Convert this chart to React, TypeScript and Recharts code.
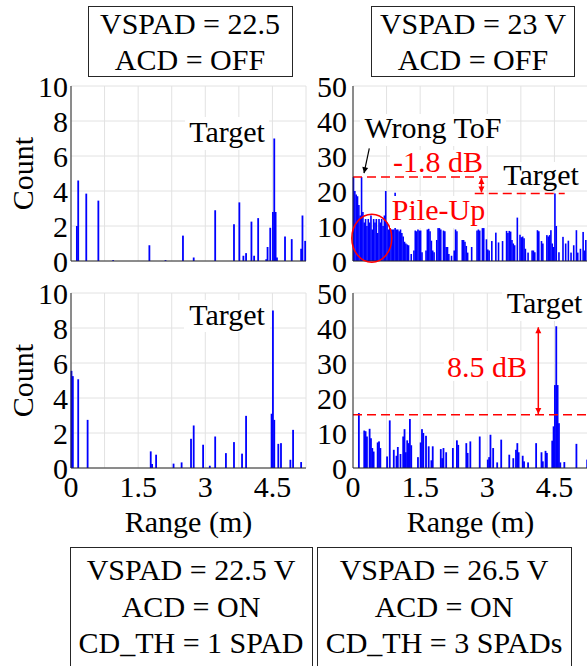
import React from 'react'
import { BarChart, Bar, XAxis, YAxis, CartesianGrid, ReferenceLine, ReferenceDot } from 'recharts'

const BIN = 0.03
const NBINS = 175
const X_MAX = 5.25
const X_TICKS = [0, 0.75, 1.5, 2.25, 3, 3.75, 4.5, 5.25]
const X_LABELS = [0, 1.5, 3, 4.5]
const Y_TICKS_10 = [0, 2, 4, 6, 8, 10]
const Y_TICKS_50 = [0, 10, 20, 30, 40, 50]

// VSPAD = 22.5, ACD = OFF
const tlRange = [0.127, 0.15, 0.335, 0.6, 0.945, 1.76, 2.1, 2.515, 2.73, 3.21, 3.63, 3.77, 3.85, 3.9, 4.03, 4.1, 4.18, 4.37, 4.39, 4.44, 4.5, 4.53, 4.56, 4.6, 4.78, 4.94, 5.14, 5.17, 5.22]
const tlCount = [2.0, 4.6, 3.85, 3.45, 0.05, 0.9, 0.05, 1.45, 0.2, 2.9, 2.1, 3.35, 0.3, 0.45, 2.25, 0.3, 2.45, 0.1, 0.8, 1.9, 2.8, 7.0, 2.8, 0.2, 1.4, 1.25, 0.7, 2.6, 1.15]

// VSPAD = 23 V, ACD = OFF (one value per 3 cm bin)
const trCount = [
  24, 20, 19, 18.5, 16, 13, 24, 14, 11, 12,
  10, 12, 11, 13, 9, 12, 11, 12, 8, 12,
  11, 12, 10, 13, 20, 11, 9, 9.4, 9, 9,
  9, 19.5, 9, 9, 8.5, 9, 8, 7, 5.5, 5,
  4.7, 4.5, 0, 2, 0, 3, 8.7, 8.5, 9, 8.7,
  8.7, 2.5, 0, 0, 3, 9, 9.2, 8.5, 5.8, 3,
  2.5, 0, 6, 9.4, 9.4, 9, 0, 8.7, 8.5, 4,
  4, 2, 0, 1.5, 0, 3, 9, 8.5, 0, 0,
  0, 6, 6, 5.5, 4.3, 2.4, 0, 0, 4, 0,
  0, 0, 8.7, 9, 8.7, 0, 9.4, 9.4, 0, 6.2,
  3.3, 3, 0, 5.7, 0, 0, 8.1, 0, 5.3, 0,
  0, 5.7, 0, 0, 8.6, 8, 8.6, 8.4, 6, 5,
  4.5, 0, 12.4, 0, 7.5, 6.8, 7, 6.5, 3.5, 0,
  2.4, 0, 0, 3, 3, 2.5, 0, 8.8, 8.5, 0,
  5.7, 5, 0, 0, 7.4, 7, 7.4, 8.8, 5, 4,
  19.3, 10, 0, 2.5, 0, 0, 6.9, 0, 5, 0,
  5.8, 0, 2.4, 0, 4.5, 0, 8.8, 2.4, 0, 3.5,
  0, 8.3, 3, 6, 0,
]

// VSPAD = 22.5 V, ACD = ON, CD_TH = 1 SPAD
const blRange = [0.02, 0.05, 0.17, 0.385, 1.78, 1.82, 1.9, 2.305, 2.47, 2.68, 2.73, 2.94, 3.09, 3.23, 3.46, 3.63, 3.82, 3.92, 4.49, 4.52, 4.55, 4.635, 4.69, 4.91, 4.96, 5.15]
const blCount = [5.55, 5.25, 5.07, 2.75, 0.95, 0.23, 0.76, 0.25, 0.32, 1.67, 2.43, 1.33, 0.13, 1.8, 0.85, 1.48, 0.82, 2.98, 3.1, 9.0, 2.75, 1.38, 1.42, 0.47, 2.18, 0.34]

// VSPAD = 26.5 V, ACD = ON, CD_TH = 3 SPADs
const brRange = [0.12, 0.245, 0.275, 0.305, 0.365, 0.395, 0.44, 0.47, 0.54, 0.58, 0.62, 0.75, 0.825, 0.92, 0.96, 1.01, 1.05, 1.11, 1.14, 1.17, 1.21, 1.245, 1.27, 1.31, 1.46, 1.51, 1.555, 1.585, 1.63, 1.7, 1.74, 1.79, 1.96, 2.0, 2.03, 2.075, 2.225, 2.335, 2.365, 2.54, 2.575, 2.63, 2.84, 3.0, 3.03, 3.08, 3.12, 3.22, 3.32, 3.48, 3.59, 3.64, 3.67, 3.71, 3.79, 3.82, 3.9, 4.1, 4.21, 4.25, 4.29, 4.345, 4.46, 4.49, 4.525, 4.55, 4.575, 4.605, 4.63, 4.71, 4.99, 5.22]
const brCount = [15.7, 10.7, 10.5, 9, 11.2, 8.5, 5.7, 4.7, 7.3, 7.6, 5.7, 3.3, 13.6, 5.2, 3.5, 6, 4, 9, 11.1, 4.5, 7.9, 7.1, 14, 6.5, 3.1, 7.3, 11.1, 10, 9.2, 6.2, 2.2, 6.2, 5.4, 2.8, 5.7, 4.5, 5.7, 7.9, 6.6, 7.1, 4.3, 7.6, 9, 2.4, 3.1, 9.5, 5.7, 1.6, 8.1, 3.8, 2.8, 5.2, 7.1, 4.5, 3.5, 1.9, 1.6, 7.1, 4.5, 1.9, 4.9, 4.3, 7.8, 11.9, 23.7, 40.5, 23.7, 12.8, 1.6, 1.7, 6.9, 2.4]

const FONT = "'Times New Roman', 'Liberation Serif', Tinos, 'DejaVu Serif', serif"
const BLUE = '#0000ff'
const RED = '#ff0000'
const AXIS = '#262626'

function binTable(counts: number[]) {
  return counts.map((y, i) => ({ x: (i + 0.5) * BIN, y }))
}

function sparseTable(ranges: number[], counts: number[]) {
  const c = new Array(NBINS).fill(0)
  ranges.forEach((r, i) => {
    const b = Math.min(NBINS - 1, Math.floor(r / BIN + 1e-6))
    c[b] = Math.max(c[b], counts[i])
  })
  return binTable(c)
}

function arrowHead(x: number, y: number, a: number, color: string, key: string) {
  const L = 6, W = 3
  const bx = x - L * Math.cos(a), by = y - L * Math.sin(a)
  const px = -Math.sin(a) * W, py = Math.cos(a) * W
  return <polygon key={key} points={`${x},${y} ${bx + px},${by + py} ${bx - px},${by - py}`} fill={color} />
}

const doubleArrow = (color: string) => (p: any) => {
  const { x1, y1, x2, y2 } = p
  const a = Math.atan2(y2 - y1, x2 - x1)
  return (
    <g>
      <line x1={x1} y1={y1} x2={x2} y2={y2} stroke={color} strokeWidth={1.5} />
      {arrowHead(x2, y2, a, color, 'e')}
      {arrowHead(x1, y1, a + Math.PI, color, 's')}
    </g>
  )
}

const singleArrow = (color: string) => (p: any) => {
  const { x1, y1, x2, y2 } = p
  const a = Math.atan2(y2 - y1, x2 - x1)
  return (
    <g>
      <line x1={x1} y1={y1} x2={x2} y2={y2} stroke={color} strokeWidth={1.2} />
      {arrowHead(x2, y2, a, color, 'e')}
    </g>
  )
}

// bar drawn a little wider than its 3 cm bin, as the histogram does
const histBar = (w: number) => (p: any) => {
  if (!p.height) return <g />
  const bw = Math.max(w, p.width + 0.3)
  return <rect x={p.x + p.width / 2 - bw / 2} y={p.y} width={bw} height={p.height} fill={BLUE} />
}

const PLOT_W = 235
const PLOT_H = 175
const SVG_W = 600
const SVG_H = 666

interface PanelProps {
  left: number
  top: number
  yMax: number
  yTicks: number[]
  data: { x: number; y: number }[]
  showX: boolean
  tickGap: number
  barW: number
  children?: React.ReactNode
}

function Panel({ left, top, yMax, yTicks, data, showX, tickGap, barW, children }: PanelProps) {
  const tickStyle = { fontSize: 30, fontFamily: FONT, fill: '#000' }
  return (
    <div style={{ position: 'absolute', left: 0, top: 0 }}>
      <BarChart
        width={SVG_W}
        height={SVG_H}
        data={data}
        barCategoryGap={0}
        barGap={0}
        margin={{ top, left: left - 60, right: SVG_W - left - PLOT_W, bottom: SVG_H - top - PLOT_H - 30 }}
      >
        <CartesianGrid stroke="#e2e2e2" strokeWidth={1} />
        <XAxis
          dataKey="x"
          type="number"
          domain={[0, X_MAX]}
          ticks={X_TICKS}
          height={30}
          tickSize={0}
          tickMargin={8}
          tick={tickStyle}
          tickFormatter={(v: number) => (showX && X_LABELS.includes(v) ? String(v) : '')}
          axisLine={{ stroke: AXIS }}
          tickLine={false}
          interval={0}
        />
        <YAxis
          type="number"
          domain={[0, yMax]}
          ticks={yTicks}
          width={60}
          tickSize={0}
          tickMargin={tickGap}
          tick={tickStyle}
          axisLine={{ stroke: AXIS }}
          tickLine={false}
          interval={0}
        />
        <XAxis xAxisId="top" orientation="top" mirror type="number" domain={[0, X_MAX]} ticks={X_TICKS} height={0} tick={false} tickSize={3} axisLine={{ stroke: AXIS }} tickLine={{ stroke: AXIS }} />
        <XAxis xAxisId="bin" orientation="bottom" mirror type="number" domain={[0, X_MAX]} ticks={X_TICKS} height={0} tick={false} tickSize={3} axisLine={false} tickLine={{ stroke: AXIS }} />
        <YAxis yAxisId="right" orientation="right" mirror type="number" domain={[0, yMax]} ticks={yTicks} width={0} tick={false} tickSize={3} axisLine={{ stroke: AXIS }} tickLine={{ stroke: AXIS }} />
        <YAxis yAxisId="lin" orientation="left" mirror type="number" domain={[0, yMax]} ticks={yTicks} width={0} tick={false} tickSize={3} axisLine={false} tickLine={{ stroke: AXIS }} />
        <Bar dataKey="y" fill={BLUE} isAnimationActive={false} shape={histBar(barW)} />
        {children}
      </BarChart>
    </div>
  )
}

function Label({ x, y, text, color = '#000', bg }: { x: number; y: number; text: string; color?: string; bg?: [number, number, number, number] }) {
  return (
    <g>
      {bg && <rect x={bg[0]} y={bg[1]} width={bg[2]} height={bg[3]} fill="#fff" />}
      <text x={x} y={y} textAnchor="middle" fill={color} fontSize={30} style={{ fontFamily: FONT }}>
        {text}
      </text>
    </g>
  )
}

export default function App() {
  return (
    <div style={{ position: 'absolute', left: 0, top: 0, width: 587, height: 666, overflow: 'hidden', background: '#fff', fontFamily: FONT }}>
      <Panel left={71} top={86} yMax={10} yTicks={Y_TICKS_10} data={sparseTable(tlRange, tlCount)} showX={false} tickGap={3} barW={1.8} />
      <Panel left={353} top={86} yMax={50} yTicks={Y_TICKS_50} data={binTable(trCount)} showX={false} tickGap={6} barW={1.6}>
        <ReferenceLine segment={[{ x: 0, y: 24 }, { x: 3.06, y: 24 }]} stroke={RED} strokeWidth={1.5} strokeDasharray="9 5" />
        <ReferenceLine segment={[{ x: 2.72, y: 19.3 }, { x: 4.73, y: 19.3 }]} stroke={RED} strokeWidth={1.5} strokeDasharray="9 5" />
        <ReferenceLine segment={[{ x: 2.87, y: 23.7 }, { x: 2.87, y: 19.6 }]} shape={doubleArrow(RED)} />
        <ReferenceLine segment={[{ x: 0.364, y: 32.2 }, { x: 0.246, y: 25.1 }]} shape={singleArrow('#000')} />
        <ReferenceDot x={0.42} y={6.5} r={1} shape={(p: any) => <ellipse cx={p.cx} cy={p.cy} rx={20} ry={24} fill="none" stroke={RED} strokeWidth={1.5} />} />
      </Panel>
      <Panel left={71} top={293} yMax={10} yTicks={Y_TICKS_10} data={sparseTable(blRange, blCount)} showX tickGap={3} barW={1.8} />
      <Panel left={353} top={293} yMax={50} yTicks={Y_TICKS_50} data={sparseTable(brRange, brCount)} showX tickGap={6} barW={1.8}>
        <ReferenceLine y={15.2} stroke={RED} strokeWidth={1.5} strokeDasharray="9 5" />
        <ReferenceLine segment={[{ x: 4.14, y: 15.4 }, { x: 4.14, y: 40.2 }]} shape={doubleArrow(RED)} />
      </Panel>

      <svg width={587} height={666} style={{ position: 'absolute', left: 0, top: 0 }}>
        <rect x={88.5} y={6.5} width={204} height={70} fill="#fff" stroke={AXIS} />
        <Label x={190} y={34} text="VSPAD = 22.5" />
        <Label x={190} y={70} text="ACD = OFF" />
        <rect x={371.5} y={6.5} width={203} height={70} fill="#fff" stroke={AXIS} />
        <Label x={473} y={34} text="VSPAD = 23 V" />
        <Label x={473} y={70} text="ACD = OFF" />

        <text transform="translate(33,173.5) rotate(-90)" textAnchor="middle" fontSize={30} style={{ fontFamily: FONT }}>Count</text>
        <text transform="translate(33,380.5) rotate(-90)" textAnchor="middle" fontSize={30} style={{ fontFamily: FONT }}>Count</text>
        <Label x={188.5} y={532} text="Range (m)" />
        <Label x={470.5} y={532} text="Range (m)" />

        <Label x={227} y={142} text="Target" bg={[185, 117, 84, 33]} />
        <Label x={227} y={325} text="Target" bg={[184, 300, 86, 32]} />
        <Label x={433} y={138} text="Wrong ToF" bg={[360, 114, 146, 32]} />
        <Label x={438} y={172} text="-1.8 dB" color={RED} bg={[390, 150, 96, 26]} />
        <Label x={541} y={185} text="Target" bg={[499, 162, 84, 28]} />
        <Label x={438.5} y={220} text="Pile-Up" color={RED} bg={[390, 196, 97, 32]} />
        <Label x={544.5} y={313} text="Target" bg={[502, 289, 86, 32]} />
        <Label x={487} y={377} text="8.5 dB" color={RED} bg={[444, 351, 86, 30]} />

        <rect x={70.5} y={547.5} width={242} height={125} fill="#fff" stroke={AXIS} />
        <Label x={191} y={580} text="VSPAD = 22.5 V" />
        <Label x={191} y={617} text="ACD = ON" />
        <Label x={191} y={653} text="CD_TH = 1 SPAD" />
        <rect x={317.5} y={547.5} width={254} height={125} fill="#fff" stroke={AXIS} />
        <Label x={444} y={580} text="VSPAD = 26.5 V" />
        <Label x={444} y={617} text="ACD = ON" />
        <Label x={444} y={653} text="CD_TH = 3 SPADs" />
      </svg>
    </div>
  )
}
